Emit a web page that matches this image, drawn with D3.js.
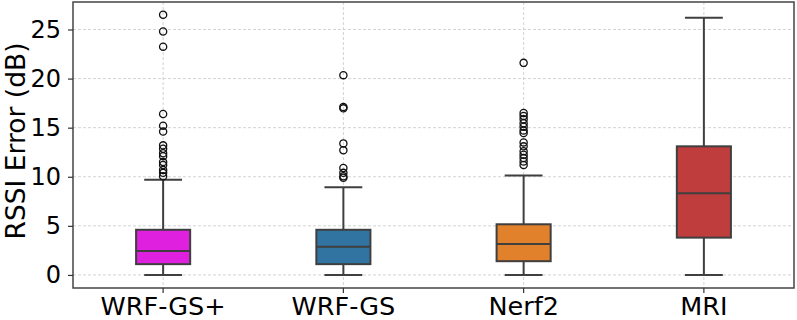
<!DOCTYPE html>
<html>
<head>
    <meta charset="utf-8">
    <style>
        body { margin: 0; background: #fff; }
        svg text { font-family: "DejaVu Sans", sans-serif; }
    </style>
</head>
<body>
    <svg width="797" height="320"></svg>

<script src="https://d3js.org/d3.v7.min.js"></script>
<script>
    // data
    let methods = ["WRF-GS+", "WRF-GS", "Nerf2", "MRI"]
    let colors = ["#df20df", "#3274a1", "#e1812c", "#c03d3e"]
    let whiskerLow = [0, 0, 0, 0]
    let q1 = [1.1, 1.1, 1.4, 3.8]
    let median = [2.45, 2.87, 3.14, 8.33]
    let q3 = [4.6, 4.6, 5.16, 13.1]
    let whiskerHigh = [9.7, 8.94, 10.12, 26.2]
    let outliers = [
        [26.5, 24.8, 23.25, 16.4, 15.2, 14.6, 13.2, 12.85, 12.4, 12.1, 11.5, 11.2, 10.7, 10.4, 10.05],
        [20.35, 17.1, 16.97, 13.4, 12.7, 10.9, 10.4, 10.05, 9.9],
        [21.6, 16.5, 16.2, 15.85, 15.45, 15.1, 14.7, 14.45, 13.5, 13.1, 12.6, 12.25, 11.9, 11.55, 11.2],
        []
    ]
    let yTicks = [0, 5, 10, 15, 20, 25]

    let margin = { left: 73, right: 794, top: 2, bottom: 288 }
    let svg = d3.select("svg")
    let font = "DejaVu Sans, sans-serif"

    let x = d3.scaleBand()
        .domain(methods)
        .range([margin.left, margin.right])
        .padding(0)

    let y = d3.scaleLinear()
        .domain([-1.33, 27.8])
        .range([margin.bottom, margin.top])

    let boxW = x.bandwidth() * 0.3
    let capW = boxW * 0.7
    let edge = "#3f3f3f"

    // grid
    svg.append("g")
        .selectAll("line")
        .data(yTicks)
        .join("line")
        .attr("x1", margin.left).attr("x2", margin.right)
        .attr("y1", d => y(d)).attr("y2", d => y(d))
        .style("stroke", "#c8c8c8").style("stroke-width", 0.8)
        .style("stroke-dasharray", "3,2")

    svg.append("g")
        .selectAll("line")
        .data(methods)
        .join("line")
        .attr("x1", d => x(d) + x.bandwidth() / 2).attr("x2", d => x(d) + x.bandwidth() / 2)
        .attr("y1", margin.top).attr("y2", margin.bottom)
        .style("stroke", "#c8c8c8").style("stroke-width", 0.8)
        .style("stroke-dasharray", "3,2")

    // boxes
    let groups = svg.append("g")
        .selectAll("g")
        .data(methods)
        .join("g")
        .attr("transform", d => "translate(" + (x(d) + x.bandwidth() / 2) + ",0)")

    groups.append("line")
        .attr("y1", (d, i) => y(whiskerLow[i])).attr("y2", (d, i) => y(q1[i]))
        .style("stroke", edge).style("stroke-width", 2)
    groups.append("line")
        .attr("y1", (d, i) => y(q3[i])).attr("y2", (d, i) => y(whiskerHigh[i]))
        .style("stroke", edge).style("stroke-width", 2)
    groups.append("line")
        .attr("x1", -capW / 2).attr("x2", capW / 2)
        .attr("y1", (d, i) => y(whiskerLow[i])).attr("y2", (d, i) => y(whiskerLow[i]))
        .style("stroke", edge).style("stroke-width", 2)
    groups.append("line")
        .attr("x1", -capW / 2).attr("x2", capW / 2)
        .attr("y1", (d, i) => y(whiskerHigh[i])).attr("y2", (d, i) => y(whiskerHigh[i]))
        .style("stroke", edge).style("stroke-width", 2)

    groups.append("rect")
        .attr("x", -boxW / 2).attr("width", boxW)
        .attr("y", (d, i) => y(q3[i]))
        .attr("height", (d, i) => y(q1[i]) - y(q3[i]))
        .style("fill", (d, i) => colors[i])
        .style("stroke", edge).style("stroke-width", 2)

    groups.append("line")
        .attr("x1", -boxW / 2).attr("x2", boxW / 2)
        .attr("y1", (d, i) => y(median[i])).attr("y2", (d, i) => y(median[i]))
        .style("stroke", edge).style("stroke-width", 2)

    groups.selectAll("circle")
        .data((d, i) => outliers[i])
        .join("circle")
        .attr("cx", 0)
        .attr("cy", d => y(d))
        .attr("r", 3.6)
        .style("fill", "none")
        .style("stroke", "#111")
        .style("stroke-width", 1.3)

    // frame
    svg.append("rect")
        .attr("x", margin.left).attr("y", margin.top)
        .attr("width", margin.right - margin.left)
        .attr("height", margin.bottom - margin.top)
        .style("fill", "none").style("stroke", "#444").style("stroke-width", 1.5)

    // axes
    let yAxis = svg.append("g")
        .attr("transform", "translate(" + margin.left + ",0)")
        .call(d3.axisLeft(y).tickValues(yTicks).tickSize(5).tickPadding(7))
    yAxis.attr("font-family", null)
    yAxis.select(".domain").remove()
    yAxis.selectAll("line").style("stroke", "#333").style("stroke-width", 1.2)
    yAxis.selectAll("text").style("font-size", "24px").style("font-family", font).style("fill", "#000")

    let xAxis = svg.append("g")
        .attr("transform", "translate(0," + margin.bottom + ")")
        .call(d3.axisBottom(x).tickSize(5).tickPadding(4))
    xAxis.attr("font-family", null)
    xAxis.select(".domain").remove()
    xAxis.selectAll("line").style("stroke", "#333").style("stroke-width", 1.2)
    xAxis.selectAll("text").style("font-size", "25.5px").style("font-family", font).style("fill", "#000")

    svg.append("text")
        .attr("transform", "translate(25," + ((margin.top + margin.bottom) / 2 - 4) + ") rotate(-90)")
        .attr("text-anchor", "middle")
        .style("font-size", "26.5px")
        .style("font-family", font)
        .text("RSSI Error (dB)")
</script>
</body>
</html>
